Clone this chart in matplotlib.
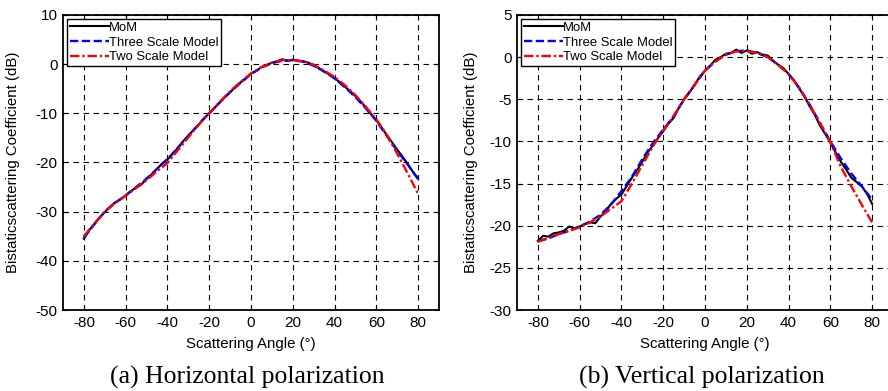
#!/usr/bin/env python3
# bistatic scattering coefficient, H and V polarization, MoM vs the two models
import numpy as np
import matplotlib
matplotlib.use("Agg")
import matplotlib.pyplot as plt

# angles
ANG_MOM = np.arange(-80, 80.1, 2.5)
ANG_MOD = np.arange(-80, 80.1, 5)

# horizontal polarization
H_MOM = [-35.5, -33.8, -32.6, -31.2, -30.1, -29.0, -28.1, -27.5, -26.7, -25.8,
         -25.1, -24.5, -23.3, -22.4, -21.3, -20.2, -19.4, -18.3, -17.0, -15.7,
         -14.5, -13.4, -12.3, -11.0, -10.0, -8.9, -7.8, -6.7, -5.7, -4.7,
         -3.7, -2.9, -1.9, -1.4, -0.6, -0.2, 0.3, 0.6, 1.0, 0.7,
         0.9, 0.7, 0.6, 0.3, -0.3, -0.8, -1.5, -2.1, -2.8, -3.7,
         -4.6, -5.5, -6.5, -7.6, -8.8, -10.2, -11.4, -12.9, -14.4, -15.9,
         -17.4, -18.8, -20.3, -21.9, -23.2]
H_THREE = [-35.3, -32.5, -30.0, -28.2, -26.7, -25.0, -23.3, -21.3, -19.3, -17.0,
           -14.6, -12.2, -10.0, -7.8, -5.7, -3.8, -2.0, -0.7, 0.2, 0.7,
           0.8, 0.5, -0.3, -1.5, -2.9, -4.7, -6.7, -9.0, -11.5, -14.6,
           -17.6, -20.4, -23.4]
H_TWO = [-35.0, -32.4, -30.0, -28.2, -26.8, -25.2, -23.6, -21.8, -20.1, -17.5,
         -14.9, -12.3, -10.0, -7.7, -5.5, -3.6, -1.9, -0.6, 0.3, 0.8,
         0.8, 0.6, -0.1, -1.3, -2.6, -4.3, -6.3, -8.7, -11.2, -14.4,
         -18.2, -22.2, -26.4]

# vertical polarization
V_MOM = [-21.8, -21.2, -21.3, -20.9, -20.8, -20.6, -20.1, -20.3, -20.1, -19.8,
         -19.6, -19.7, -18.9, -18.3, -17.4, -16.8, -16.3, -15.3, -14.3, -13.4,
         -12.4, -11.3, -10.5, -9.6, -8.8, -7.9, -7.2, -6.0, -5.0, -4.2,
         -3.3, -2.3, -1.6, -1.0, -0.3, 0.0, 0.4, 0.5, 0.9, 0.5,
         0.8, 0.4, 0.6, 0.3, 0.2, -0.4, -0.9, -1.3, -2.0, -2.7,
         -3.7, -4.6, -5.8, -6.8, -8.1, -9.1, -10.1, -11.3, -12.4, -13.3,
         -14.3, -14.8, -15.3, -16.2, -17.4]
V_THREE = [-21.8, -21.5, -21.0, -20.6, -20.1, -19.5, -18.7, -17.5, -15.9, -14.2,
           -12.1, -10.2, -8.6, -7.0, -5.0, -3.3, -1.6, -0.5, 0.3, 0.7,
           0.8, 0.5, 0.0, -0.9, -2.0, -3.6, -5.6, -7.8, -10.0, -12.0,
           -13.8, -15.3, -16.9]
V_TWO = [-21.9, -21.5, -21.0, -20.6, -20.2, -19.6, -18.9, -18.0, -17.1, -15.0,
         -12.8, -10.6, -8.7, -7.0, -5.0, -3.3, -1.6, -0.5, 0.3, 0.7,
         0.7, 0.5, 0.0, -0.9, -2.0, -3.6, -5.6, -7.8, -10.1, -13.0,
         -15.3, -17.5, -19.6]

SANS = ["Liberation Sans", "DejaVu Sans"]
SERIF = ["Liberation Serif", "DejaVu Serif"]
plt.rcParams["font.family"] = SANS
plt.rcParams["axes.unicode_minus"] = False

fig = plt.figure(figsize=(8.88, 3.91), dpi=100)
ax_h = fig.add_axes([63 / 888, 1 - 310 / 391, 376 / 888, 295 / 391])
ax_v = fig.add_axes([517 / 888, 1 - 310 / 391, 376 / 888, 295 / 391])

panels = [
    (ax_h, H_MOM, H_THREE, H_TWO, (-50, 10), np.arange(-50, 11, 10),
     "(a) Horizontal polarization", -0.114),
    (ax_v, V_MOM, V_THREE, V_TWO, (-30, 5), np.arange(-30, 6, 5),
     "(b) Vertical polarization", -0.104),
]

for ax, mom, three, two, ylim, yt, cap, ylx in panels:
    ax.plot(ANG_MOM, mom, color="black", lw=1.5, label="MoM", zorder=3)
    ax.plot(ANG_MOD, three, color="blue", lw=1.7, ls=(0, (3.5, 1.5)),
            label="Three Scale Model", zorder=4)
    ax.plot(ANG_MOD, two, color="red", lw=1.7, ls=(0, (4, 1.2, 1, 1.2)),
            label="Two Scale Model", zorder=5)
    ax.set_xlim(-90, 90)
    ax.set_ylim(*ylim)
    ax.set_xticks(np.arange(-80, 81, 20))
    ax.set_yticks(yt)
    ax.grid(True, color="black", ls=(0, (5, 4)), lw=0.8)
    ax.tick_params(direction="in", top=True, right=True, length=3,
                   labelsize=11, width=0.8, pad=4)
    for s in ax.spines.values():
        s.set_linewidth(1.3)
    ax.set_xlabel("Scattering Angle (°)", fontsize=10.8)
    ax.set_ylabel("Bistaticscattering Coefficient (dB)", fontsize=10.8)
    ax.xaxis.set_label_coords(0.5, -0.092)
    ax.yaxis.set_label_coords(ylx, 0.5)
    leg = ax.legend(loc="upper left", fontsize=9.4, handlelength=3.0,
                    handletextpad=0.0, labelspacing=0.2, borderpad=0.22,
                    borderaxespad=0.3, fancybox=False, framealpha=1)
    leg.get_frame().set_edgecolor("black")
    leg.get_frame().set_linewidth(1.0)
    bb = ax.get_position()
    fig.text(bb.x0 + bb.width / 2 - 0.004, 1 - 377 / 391, cap,
             family=SERIF, fontsize=18.5, ha="center", va="center")

fig.savefig("out.png", dpi=100)
